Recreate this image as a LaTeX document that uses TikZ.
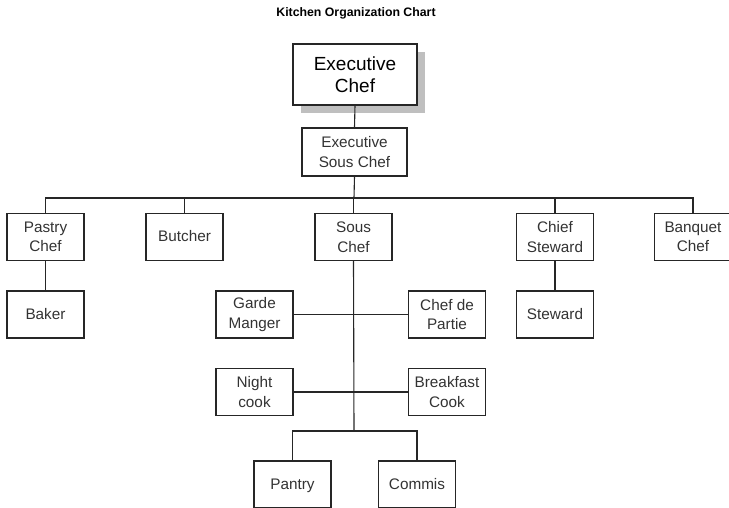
\documentclass[tikz,border=0pt]{standalone}
\usepackage{fontspec}
\setmainfont{Liberation Sans}
\usetikzlibrary{shadows}

\begin{document}
\begin{tikzpicture}[
      x=1pt, y=-1pt,
      font=\fontsize{15.3}{19.5}\selectfont,
      box/.style={
        draw=black!85, line width=1.1pt, fill=white, text=black!80,
        minimum width=77pt, minimum height=47pt, align=center,
        inner sep=2pt
      },
      single/.style={box, text height=13pt, text depth=3.5pt},
      topbox/.style={
        box, minimum width=124pt, minimum height=61pt, text=black,
        font=\fontsize{19}{22}\selectfont,
        drop shadow={shadow xshift=8pt, shadow yshift=-8pt,
          fill=black!25, opacity=1}
      },
      link/.style={draw=black!85, line width=1.1pt}
    ]
    \useasboundingbox (0,0) rectangle (729,508);

    \node[font=\bfseries\fontsize{12.3}{14}\selectfont] (title) at (356,13) {Kitchen Organization Chart};

    \node[topbox] (chef) at (355,74.5) {Executive\\Chef};
    \node[box, minimum width=105pt, minimum height=48pt] (exsous) at (354.5,152) {Executive\\Sous Chef};

    \node[box] (pastry) at (45.5,237) {Pastry\\Chef};
    \node[single] (butcher) at (184.5,237) {Butcher};
    \node[box] (sous) at (353.5,237) {Sous\\Chef};
    \node[box] (chsteward) at (555,237) {Chief\\Steward};
    \node[box] (banquet) at (693,237) {Banquet\\Chef};

    \node[single] (baker) at (45.5,314.5) {Baker};
    \node[single] (steward) at (555,314.5) {Steward};

    \node[box] (garde) at (254.5,314.5) {Garde\\Manger};
    \node[box] (partie) at (447,314.5) {Chef de\\Partie};
    \node[box] (night) at (254.5,392) {Night\\cook};
    \node[box] (breakfast) at (447,392) {Breakfast\\Cook};

    \node[single] (pantry) at (292.5,484.5) {Pantry};
    \node[single] (commis) at (417,484.5) {Commis};

    \coordinate (bus) at (354,198);
    \coordinate (foot) at (354,431);

    \draw[link] (chef.south) -- (exsous.north);
    \draw[link] (exsous.south) -- (bus);
    \draw[link] (pastry.north) |- (bus) -| (banquet.north);
    \draw[link] (butcher.north) -- (butcher.north |- bus);
    \draw[link] (sous.north) -- (sous.north |- bus);
    \draw[link] (chsteward.north) -- (chsteward.north |- bus);

    \draw[link] (pastry.south) -- (baker.north);
    \draw[link] (chsteward.south) -- (steward.north);

    \draw[link] (sous.south) -- (foot);
    \draw[link] (garde.east) -- (partie.west);
    \draw[link] (night.east) -- (breakfast.west);
    \draw[link] (pantry.north) |- (foot) -| (commis.north);
  \end{tikzpicture}
\end{document}
